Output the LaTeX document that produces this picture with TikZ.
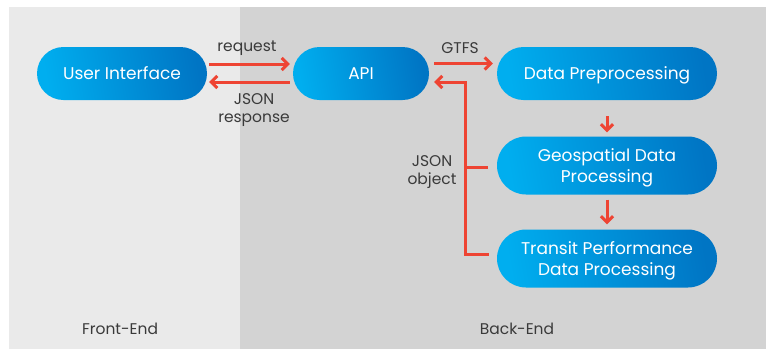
\documentclass[tikz,border=0pt]{standalone}
\usepackage{fontspec}
\setmainfont{Poppins}
\usetikzlibrary{shapes.misc,arrows.meta}
\definecolor{panelA}{HTML}{EAEAEA}
\definecolor{panelB}{HTML}{D3D3D3}
\definecolor{boxL}{HTML}{00AEEF}
\definecolor{boxR}{HTML}{0075C4}
\definecolor{arrowc}{HTML}{EE4433}
\definecolor{labelc}{HTML}{3A3A3A}
\tikzset{
  procbox/.style={rounded rectangle, left color=boxL, right color=boxR, shading angle=100,
    text=white, font=\fontsize{17}{21}\selectfont, align=center, inner sep=0pt, text depth=0pt},
  arr/.style={draw=arrowc, line width=3pt, -{Straight Barb[length=6pt,width=12pt,line width=3pt]}},
  lnk/.style={draw=arrowc, line width=3pt},
  lbl/.style={text=labelc, font=\fontsize{15.5}{18}\selectfont, align=center},
}
\begin{document}
\begin{tikzpicture}[x=1pt,y=-1pt]
\useasboundingbox (0,0) rectangle (766,349);
\fill[white] (0,0) rectangle (766,349);
\fill[panelA] (9,7) rectangle (240,349);
\fill[panelB] (240,7) rectangle (766,349);

\node[procbox, minimum width=170pt, minimum height=53pt] (ui) at (122,73.5) {User Interface};
\node[procbox, minimum width=136pt, minimum height=53pt] (api) at (361,73.5) {API};
\node[procbox, minimum width=220pt, minimum height=53pt] (pre) at (607,73.5) {Data Preprocessing};
\node[procbox, minimum width=220pt, minimum height=58pt] (geo) at (607,165.5) {Geospatial Data\\Processing};
\node[procbox, minimum width=220pt, minimum height=58pt] (tpd) at (607,258.5) {Transit Performance\\Data Processing};

\coordinate (jn) at (465,82);

\draw[arr] ([xshift=2pt,yshift=9.5pt]ui.east) -- ([xshift=-3pt,yshift=9.5pt]api.west);
\draw[arr] ([xshift=-3pt,yshift=-8.5pt]api.west) -- ([xshift=2pt,yshift=-8.5pt]ui.east);
\draw[arr] ([xshift=5pt,yshift=10pt]api.east) -- ([xshift=-4pt,yshift=10pt]pre.west);
\draw[arr, line join=miter] ([xshift=-8pt,yshift=4.5pt]tpd.west) -| (jn) -- ([xshift=5pt,yshift=-8.5pt]api.east);
\draw[lnk] ([xshift=-9pt,yshift=-1.5pt]geo.west) -- ([yshift=-1.5pt]geo.west -| jn);
\draw[arr] ([yshift=-16pt]pre.south) -- ([yshift=4pt]geo.north);
\draw[arr] ([yshift=-5pt]geo.south) -- ([yshift=5pt]tpd.north);

\node[lbl] (lreq) at (247,48) {request};
\node[lbl] (lresp) at (254,110.5) {JSON\\response};
\node[lbl] (lgtfs) at (460,48) {GTFS};
\node[lbl] (lobj) at (432,172) {JSON\\object};
\node[lbl] (lfe) at (120,329) {Front-End};
\node[lbl] (lbe) at (517,329) {Back-End};
\end{tikzpicture}
\end{document}
